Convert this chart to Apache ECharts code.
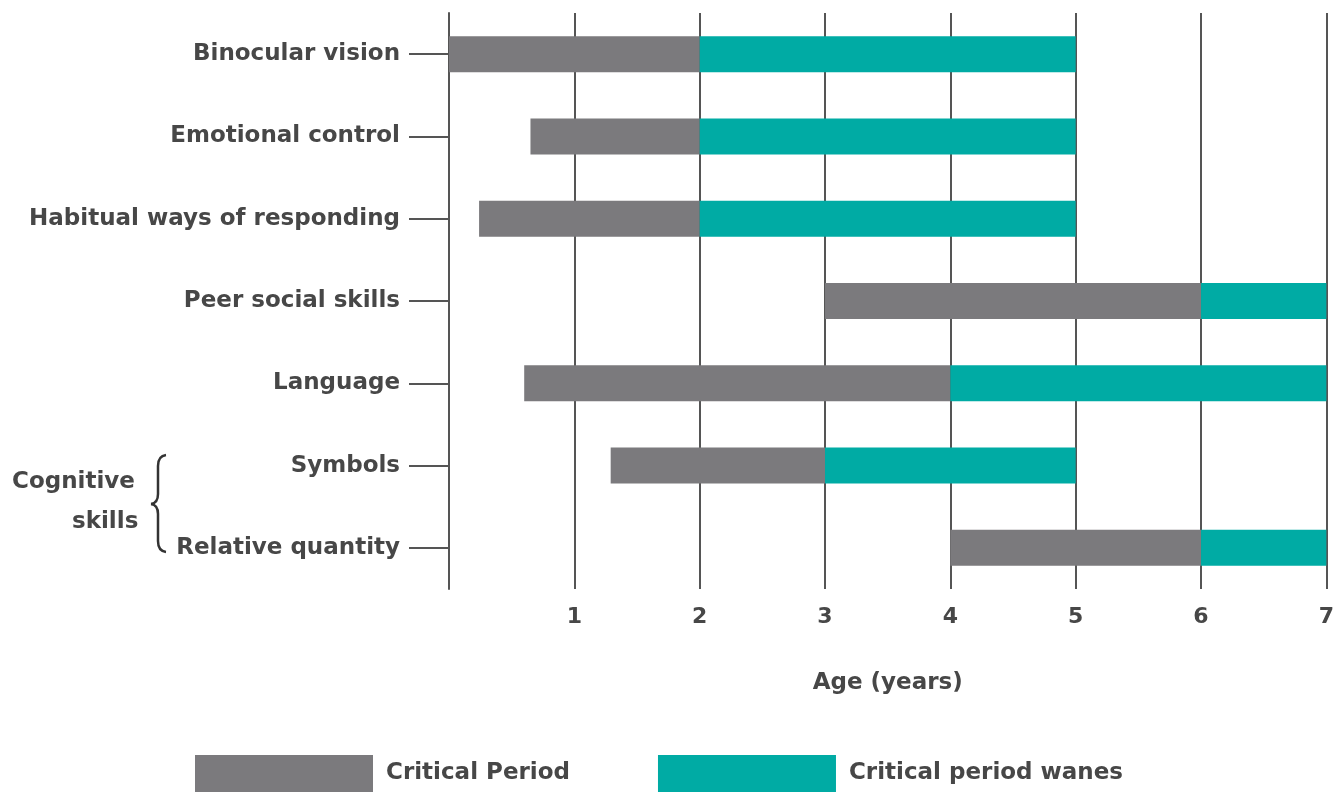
<!DOCTYPE html>
<html>
<head>
<meta charset="utf-8">
<script src="https://cdn.jsdelivr.net/npm/echarts@6/dist/echarts.min.js"></script>
<style>
html,body{margin:0;padding:0;background:#fff;}
#chart{width:1337px;height:793px;}
</style>
</head>
<body>
<div id="chart"></div>
<script>
const categories = ['Binocular vision','Emotional control','Habitual ways of responding','Peer social skills','Language','Symbols','Relative quantity'];
const criticalStart = [0, 0.65, 0.24, 3, 0.6, 1.29, 4];
const criticalEnd   = [2, 2, 2, 6, 4, 3, 6];
const wanesEnd      = [5, 5, 5, 7, 7, 5, 7];
const xTicks = [0,1,2,3,4,5,6,7];

const baseVals = criticalStart;
const critVals = criticalEnd.map((e,i)=> +(e - criticalStart[i]).toFixed(3));
const wanesVals = wanesEnd.map((e,i)=> +(e - criticalEnd[i]).toFixed(3));

const FONT = "'DejaVu Sans', 'Noto Sans', sans-serif";
const TXT = '#474747';
const LINE = '#555555';
const GRAY = '#7b7a7d';
const TEAL = '#00aba4';

const braceStyle = {stroke:'#333', lineWidth:2.5, fill:null};
const chart = echarts.init(document.getElementById('chart'));
chart.setOption({
  animation:false,
  backgroundColor:'#fff',
  textStyle:{fontFamily:FONT},
  grid:{left:449, right:7, top:13, height:576},
  legend:{
    left:190, top:750,
    itemWidth:178, itemHeight:37, itemGap:88,
    icon:'rect',
    data:['Critical Period','Critical period wanes'],
    textStyle:{fontFamily:FONT, fontSize:23, fontWeight:'bold', color:TXT, padding:[0,0,0,8]}
  },
  xAxis:{
    type:'value', min:0, max:7, interval:1,
    axisLine:{show:false},
    axisTick:{show:false},
    splitLine:{show:true, lineStyle:{color:LINE, width:2}},
    axisLabel:{
      margin:17, fontFamily:FONT, fontSize:22, fontWeight:'bold', color:TXT,
      formatter:(v)=> v===0 ? '' : String(v)
    },
    name:'Age (years)', nameLocation:'middle', nameGap:83,
    nameTextStyle:{fontFamily:FONT, fontSize:23, fontWeight:'bold', color:TXT}
  },
  yAxis:{
    type:'category', inverse:true, data:categories,
    axisLine:{show:true, lineStyle:{color:LINE, width:2}},
    axisTick:{show:true, alignWithLabel:true, length:40, lineStyle:{color:LINE, width:2}, interval:0},
    axisLabel:{margin:49, fontFamily:FONT, fontSize:23, fontWeight:'bold', color:TXT, interval:0},
    splitLine:{show:false}
  },
  series:[
    {name:'base', type:'bar', stack:'s', data:baseVals, barWidth:36, itemStyle:{color:'transparent'}, silent:true},
    {name:'Critical Period', type:'bar', stack:'s', data:critVals, barWidth:36, itemStyle:{color:GRAY}},
    {name:'Critical period wanes', type:'bar', stack:'s', data:wanesVals, barWidth:36, itemStyle:{color:TEAL}}
  ],
  graphic:[
    {type:'text', left:12, top:471, style:{text:'Cognitive', font:"bold 23px 'DejaVu Sans', sans-serif", fill:TXT}},
    {type:'text', left:72, top:511, style:{text:'skills', font:"bold 23px 'DejaVu Sans', sans-serif", fill:TXT}},
    {type:'bezierCurve', shape:{x1:166,y1:455,cpx1:158,cpy1:456,x2:158,y2:466}, style:braceStyle},
    {type:'line', shape:{x1:158,y1:466,x2:158,y2:494}, style:braceStyle},
    {type:'bezierCurve', shape:{x1:158,y1:494,cpx1:158,cpy1:503,x2:151,y2:504}, style:braceStyle},
    {type:'bezierCurve', shape:{x1:151,y1:504,cpx1:158,cpy1:505,x2:158,y2:514}, style:braceStyle},
    {type:'line', shape:{x1:158,y1:514,x2:158,y2:541}, style:braceStyle},
    {type:'bezierCurve', shape:{x1:158,y1:541,cpx1:158,cpy1:551,x2:166,y2:552}, style:braceStyle}
  ]
});
</script>
</body>
</html>
